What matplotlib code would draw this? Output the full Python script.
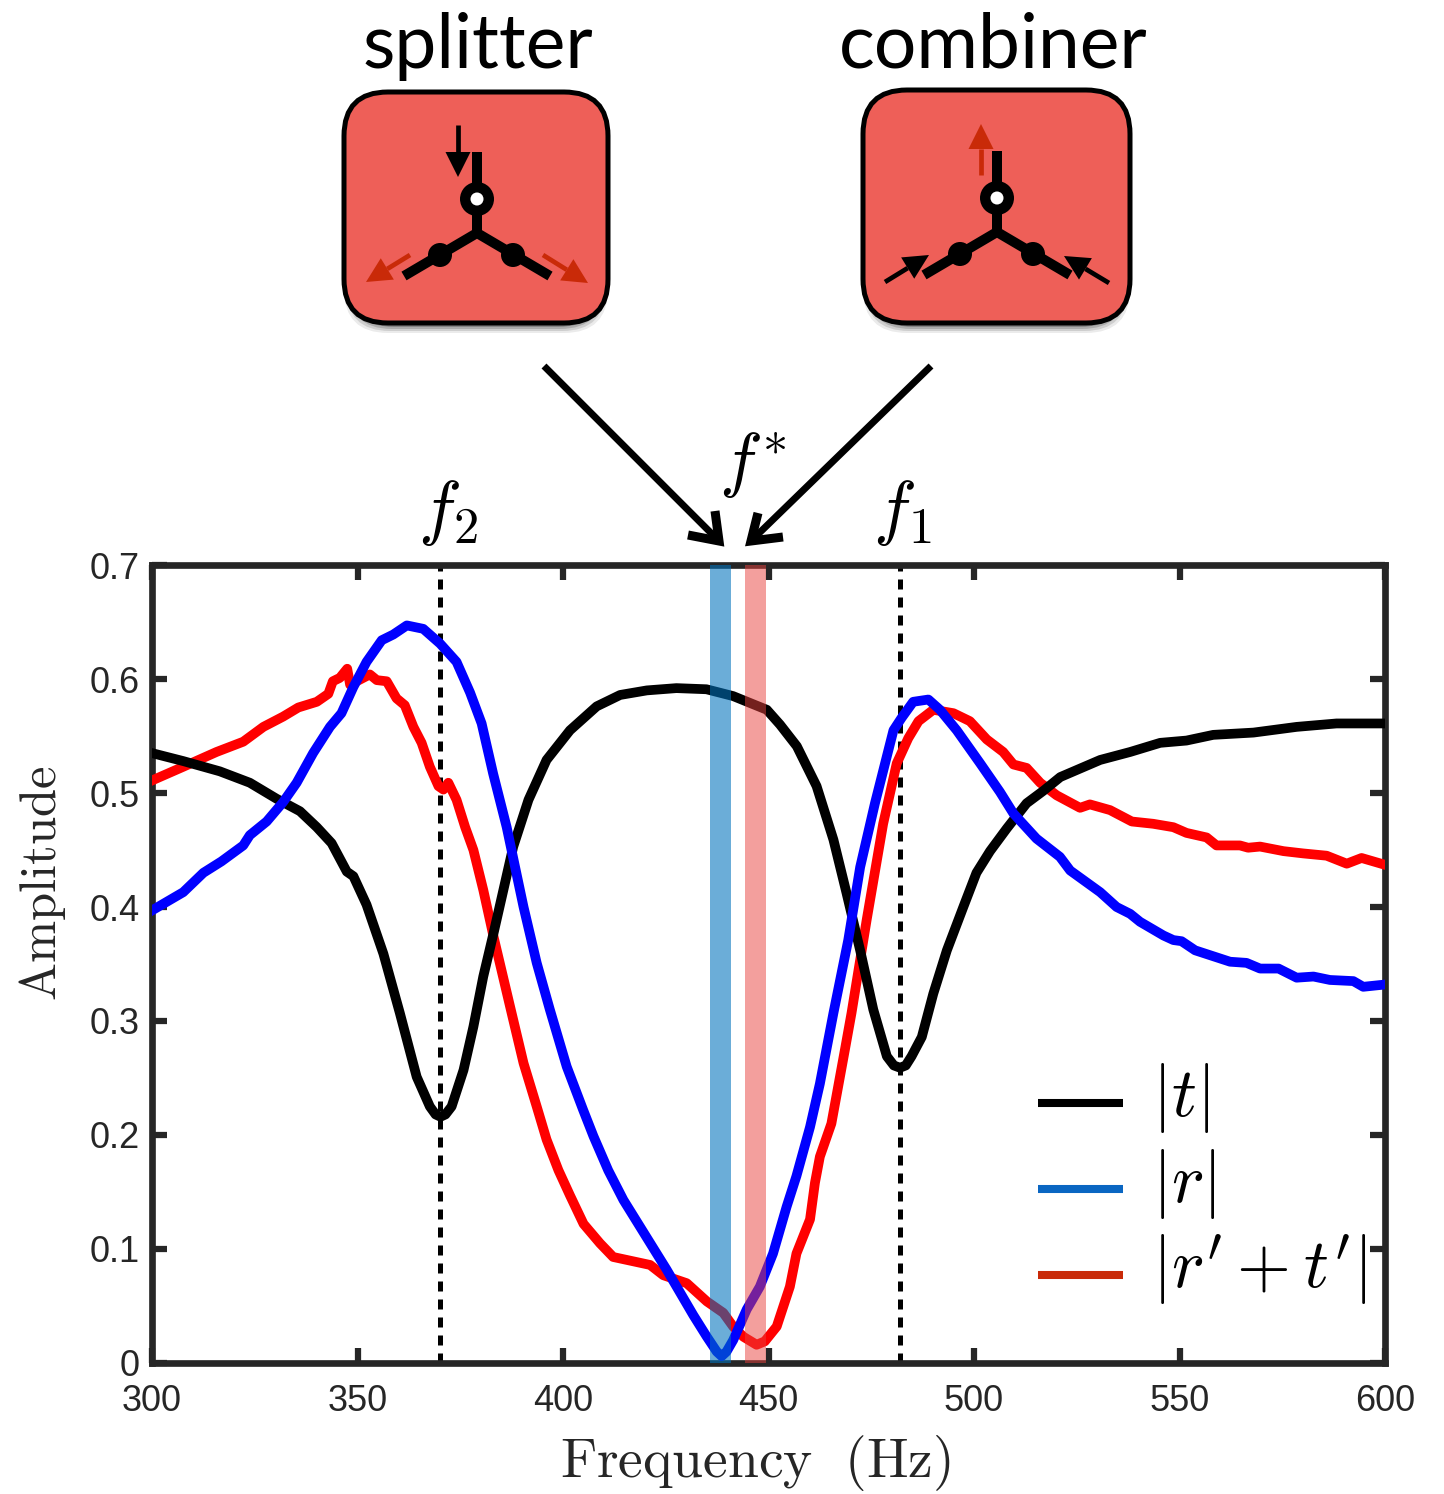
import matplotlib
matplotlib.use("Agg")
import matplotlib.pyplot as plt
from matplotlib.patches import FancyBboxPatch, Circle, Polygon
import numpy as np

plt.rcParams["mathtext.fontset"] = "cm"
plt.rcParams["font.family"] = ["Liberation Sans", "DejaVu Sans"]

W, H = 1444, 1494

t_freq = [300, 307.6, 316.5, 323.8, 330.3, 336, 340.1, 343.7, 347.4, 349, 352.2, 356.3, 360.3, 364.4, 367.6, 369,
          370.2, 371.4, 372.9, 375.8, 378.2, 380.6, 383.1, 385.5, 387.9, 391.6, 396, 401.7, 408.2, 413.9, 420.4,
          427.6, 434.9, 441.4, 449.6, 452.8, 456.9, 461.7, 465.8, 469, 472.3, 475.5, 478.8, 480.5, 482, 483.4,
          484.8, 487.3, 490.1, 493.4, 497.4, 500.6, 503.9, 508, 512.8, 516.9, 521, 530.7, 538, 545.3, 551.7, 558.2,
          568, 578.5, 588.2, 600]
t_vals = [0.535, 0.528, 0.519, 0.509, 0.495, 0.484, 0.470, 0.456, 0.431, 0.427, 0.402, 0.359, 0.307, 0.251, 0.225,
          0.218, 0.216, 0.218, 0.225, 0.257, 0.295, 0.339, 0.377, 0.415, 0.453, 0.494, 0.529, 0.555, 0.576, 0.586,
          0.590, 0.592, 0.591, 0.585, 0.573, 0.560, 0.541, 0.506, 0.459, 0.412, 0.362, 0.310, 0.269, 0.261, 0.259,
          0.261, 0.269, 0.286, 0.324, 0.362, 0.400, 0.430, 0.449, 0.469, 0.491, 0.502, 0.514, 0.529, 0.536, 0.544,
          0.546, 0.551, 0.553, 0.558, 0.561, 0.561]

r_freq = [300, 307.6, 312.5, 316.9, 322.2, 323.8, 327.9, 331.9, 335.2, 339.2, 343.3, 346.1, 349, 352.2, 355.9, 358.7,
          362, 366, 370.1, 374.1, 377.4, 380.2, 383, 386.3, 390.4, 393.6, 396.8, 400.9, 404.9, 407.4, 411, 414.7,
          425.2, 431.7, 435, 437.4, 438.6, 439.8, 441.4, 444.7, 447.9, 451.1, 454.4, 456.8, 460.1, 462.5, 465.8,
          469.4, 472.3, 475.9, 480.4, 482.4, 485.2, 488.9, 491.7, 495.8, 501.5, 506.3, 509.6, 515.2, 520.9, 523.4,
          530.7, 534.7, 538, 540.4, 546.1, 548.5, 550.5, 553.8, 562.3, 566.3, 569.6, 574.1, 578.5, 582.6, 586.6,
          592.3, 594.7, 600]
r_vals = [0.397, 0.413, 0.430, 0.440, 0.454, 0.463, 0.475, 0.492, 0.509, 0.535, 0.558, 0.570, 0.593, 0.615, 0.634,
          0.639, 0.647, 0.644, 0.631, 0.615, 0.588, 0.561, 0.517, 0.470, 0.400, 0.351, 0.310, 0.260, 0.222, 0.199,
          0.169, 0.143, 0.082, 0.042, 0.023, 0.010, 0.006, 0.010, 0.020, 0.047, 0.067, 0.096, 0.137, 0.164, 0.207,
          0.245, 0.307, 0.371, 0.435, 0.491, 0.555, 0.566, 0.580, 0.582, 0.573, 0.555, 0.526, 0.501, 0.482, 0.460,
          0.444, 0.432, 0.413, 0.400, 0.394, 0.387, 0.375, 0.371, 0.370, 0.362, 0.352, 0.351, 0.346, 0.346, 0.338,
          0.339, 0.336, 0.335, 0.330, 0.332]

rt_freq = [300, 307.6, 315.7, 322.2, 327.1, 331.9, 335.6, 340.1, 342.9, 344, 345.7, 347.5, 348.2, 351.4, 353, 354.7,
           357.1, 359.5, 361.5, 363.6, 365.6, 367.6, 369.7, 370.9, 372.1, 374.1, 376.2, 378.2, 380.6, 383.1, 387.1,
           390.4, 393.6, 396, 398.9, 401.7, 405, 409, 412.2, 421.2, 424.4, 430.1, 435, 439, 441.4, 443.9, 447.1,
           449.1, 452, 455.2, 456.8, 460.1, 461.3, 462.5, 465.3, 468.6, 470.2, 473.9, 477.9, 481.2, 484, 486.5,
           490.1, 495, 499, 503.1, 507.1, 509.6, 512.8, 516.1, 520.1, 525.8, 528.2, 533.1, 538.4, 543.6, 548.5,
           551.7, 556.6, 559, 564.7, 566.7, 569.6, 575.3, 580.1, 585.8, 590.7, 594.3, 600]
rt_vals = [0.511, 0.523, 0.536, 0.545, 0.558, 0.567, 0.575, 0.580, 0.587, 0.598, 0.601, 0.609, 0.595, 0.601, 0.604,
           0.599, 0.598, 0.583, 0.577, 0.558, 0.544, 0.523, 0.506, 0.503, 0.509, 0.494, 0.470, 0.450, 0.415, 0.374,
           0.313, 0.263, 0.225, 0.196, 0.169, 0.147, 0.122, 0.105, 0.093, 0.086, 0.077, 0.070, 0.054, 0.044, 0.032,
           0.023, 0.016, 0.019, 0.032, 0.067, 0.096, 0.126, 0.158, 0.181, 0.210, 0.275, 0.307, 0.389, 0.473, 0.526,
           0.548, 0.563, 0.573, 0.570, 0.563, 0.547, 0.536, 0.525, 0.522, 0.509, 0.498, 0.487, 0.490, 0.485, 0.475,
           0.473, 0.470, 0.465, 0.461, 0.454, 0.454, 0.452, 0.453, 0.449, 0.447, 0.445, 0.438, 0.443, 0.437]

f1, f2 = 482, 370
blue_band = (435.8, 440.9)
pink_band = (444.3, 449.4)
x_ticks = [300, 350, 400, 450, 500, 550, 600]
y_ticks = [0, 0.1, 0.2, 0.3, 0.4, 0.5, 0.6, 0.7]
y_labels = ["0", "0.1", "0.2", "0.3", "0.4", "0.5", "0.6", "0.7"]
legend_labels = [r"$|t|$", r"$|r|$", r"$|r^{\prime}+t^{\prime}|$"]
legend_colors = ["black", "#0a66c2", "#c92a08"]

BLOCK_RED = "#ee5f58"
ARROW_RED = "#c92a08"


def stub_arrow(ax, start, tip, color, head_len=25, half_width=12.5, lw=3.4):
    start, tip = np.array(start, float), np.array(tip, float)
    direction = (tip - start) / np.hypot(*(tip - start))
    normal = np.array([-direction[1], direction[0]])
    base = tip - direction * head_len
    ax.plot([start[0], base[0]], [start[1], base[1]], color=color, lw=lw, solid_capstyle="butt", zorder=6)
    ax.add_patch(Polygon([tip, base + normal * half_width, base - normal * half_width], fc=color, ec="none", zorder=6))


def draw_block(ax, left, top, right, bottom, cx, cy):
    # soft shadow below the box
    for grow, alpha in [(0, 0.08), (-2, 0.12), (-4, 0.16), (-6, 0.22)]:
        ax.add_patch(FancyBboxPatch((left + 44 - grow, top + 44 + 10), right - left - 88 + 2 * grow,
                                    bottom - top - 88 + grow, boxstyle="round,pad=44,rounding_size=44",
                                    fc="black", ec="none", alpha=alpha, zorder=1))
    ax.add_patch(FancyBboxPatch((left + 44, top + 44), right - left - 88, bottom - top - 88,
                                boxstyle="round,pad=44,rounding_size=44", fc=BLOCK_RED, ec="black", lw=3.6, zorder=2))
    # Y junction
    ax.plot([cx, cx], [cy - 81, cy], color="black", lw=7.2, solid_capstyle="butt", zorder=3)
    ax.plot([cx - 73, cx, cx + 73], [cy + 43, cy, cy + 43], color="black", lw=7.2, solid_capstyle="butt",
            solid_joinstyle="miter", zorder=3)
    for dx in (-37, 36):
        ax.add_patch(Circle((cx + dx, cy + 22), 12, fc="black", ec="none", zorder=4))
    ax.add_patch(Circle((cx, cy - 34), 17, fc="black", ec="none", zorder=4))
    ax.add_patch(Circle((cx, cy - 34), 6.5, fc="white", ec="none", zorder=5))


fig = plt.figure(figsize=(W / 100, H / 100), dpi=100)

ax = fig.add_axes([152 / W, 1 - 1363 / H, (1385 - 152) / W, (1363 - 565) / H])
ax.plot(rt_freq, rt_vals, color="#ff0000", lw=7, solid_joinstyle="round", zorder=3)
ax.plot(t_freq, t_vals, color="black", lw=7, solid_joinstyle="round", zorder=3.2)
ax.plot(r_freq, r_vals, color="#0000ff", lw=7, solid_joinstyle="round", zorder=3.4)
ax.axvspan(*blue_band, color="#0072bd", alpha=0.58, lw=0, zorder=5)
ax.axvspan(*pink_band, color="#e8403c", alpha=0.5, lw=0, zorder=5)
for f in (f1, f2):
    ax.plot([f, f], [0, 0.7], color="black", lw=3.6, dashes=(2.0, 1.6), zorder=2)

ax.set_xlim(300, 600)
ax.set_ylim(0, 0.7)
ax.set_xticks(x_ticks)
ax.set_yticks(y_ticks)
ax.set_yticklabels(y_labels)
ax.tick_params(direction="in", top=True, right=True, length=11, width=4.5, color="#262626", labelsize=26,
               labelcolor="#262626")
ax.tick_params(axis="x", pad=15)
ax.tick_params(axis="y", pad=9)
for spine in ax.spines.values():
    spine.set_linewidth(4.8)
    spine.set_color("#262626")

# overlay in pixel coordinates for the schematic and annotations
over = fig.add_axes([0, 0, 1, 1], facecolor="none")
over.set_xlim(0, W)
over.set_ylim(H, 0)
over.axis("off")

over.text(755, 1477, r"$\mathrm{Frequency\ \ (Hz)}$", fontsize=40, ha="center", va="baseline", color="#262626")
over.text(43, 883, r"$\mathrm{Amplitude}$", fontsize=36.5, rotation=90, ha="center", va="center", color="#262626")

over.text(478, 68, "splitter", family="Lato", fontsize=54, ha="center", va="baseline", color="black")
over.text(993, 68, "combiner", family="Lato", fontsize=54, ha="center", va="baseline", color="black")

draw_block(over, 344, 92, 608, 323, 477, 233)
draw_block(over, 863, 90, 1130, 323, 997, 232)

# splitter arrows
stub_arrow(over, (458, 125), (458, 177), "black")
stub_arrow(over, (410, 255), (366, 282), ARROW_RED)
stub_arrow(over, (543, 255), (588, 283), ARROW_RED)
# combiner arrows
stub_arrow(over, (981, 175), (981, 124), ARROW_RED)
stub_arrow(over, (885, 282), (929, 255), "black")
stub_arrow(over, (1109, 283), (1064, 256), "black")

# big arrows into the band
for start, tip, barb_a, barb_b in [((544, 366), (719, 541), (688, 535), (715, 511)),
                                   ((931, 366), (751, 541), (783, 537), (758, 513))]:
    over.plot([start[0], tip[0]], [start[1], tip[1]], color="black", lw=5, solid_capstyle="butt")
    over.plot([barb_a[0], tip[0], barb_b[0]], [barb_a[1], tip[1], barb_b[1]], color="black", lw=6.5,
              solid_capstyle="butt", solid_joinstyle="miter")

over.text(448, 531, r"$f_2$", fontsize=52, ha="center", va="baseline")
over.text(902, 531, r"$f_1$", fontsize=52, ha="center", va="baseline")
over.text(753, 484, r"$f^{*}$", fontsize=52, ha="center", va="baseline")

# hand-drawn legend
for y, label, color in zip([1103, 1189, 1275], legend_labels, legend_colors):
    over.plot([1038, 1123], [y, y], color=color, lw=5.8, solid_capstyle="butt")
    over.text(1152, y + 13, label, fontsize=50, ha="left", va="baseline")

fig.savefig("out.png", dpi=100)
